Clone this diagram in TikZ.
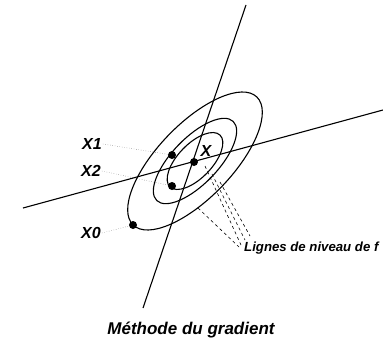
\documentclass[tikz,border=0pt]{standalone}
\usepackage{fontspec}
\setmainfont{Liberation Sans}
\usetikzlibrary{positioning}

\begin{document}
\begin{tikzpicture}[
  x=1pt, y=-1pt,
  lbl/.style={font=\fontsize{16}{16}\selectfont\bfseries\itshape, inner sep=1pt},
  small/.style={font=\fontsize{13.2}{13.2}\selectfont\bfseries\itshape, inner sep=1pt},
  pt/.style={circle, fill, inner sep=0pt, minimum size=8pt},
  lead/.style={dotted, thin, black!70},
  lvl/.style={line width=1.1pt},
  dsh/.style={line width=0.6pt, dash pattern=on 3pt off 3pt}
]
  \useasboundingbox (0,0) rectangle (383,340);

  % axes
  \coordinate (a1) at (246,5);
  \coordinate (a2) at (143,308);
  \coordinate (b1) at (23,208);
  \coordinate (b2) at (383,110);
  \draw[lvl] (a1) -- (a2);
  \draw[lvl] (b1) -- (b2);

  % level curves
  \coordinate (c) at (195,161);
  \foreach \ra/\rb in {89/37, 55/23, 36/17}
    \draw[lvl, rotate around={46:(c)}] (c) ellipse [x radius=\ra, y radius=\rb];

  % iterates
  \node[pt] (x0) at (133,225) {};
  \node[pt] (x1) at (172,155) {};
  \node[pt] (x2) at (172,186) {};
  \node[pt] (xs) at (194,162) {};

  \node[lbl] (lx1) at (92,144) {X1};
  \node[lbl] (lx2) at (91,171) {X2};
  \node[lbl] (lx0) at (91,233) {X0};
  \node[lbl] (lxs) at (206,151) {X};

  \draw[lead] (lx1.east) -- (x1);
  \draw[lead] (lx2.east) -- (x2);
  \draw[lead] (lx0.east) -- (x0);

  % level lines label
  \node[small, anchor=west] (niv) at (243,248) {Lignes de niveau de f};
  \coordinate (s1) at (205,166);
  \coordinate (s2) at (212,174);
  \coordinate (s3) at (220,182);
  \coordinate (s4) at (198,208);
  \coordinate (e1) at (241,245);
  \coordinate (e2) at (245,240);
  \coordinate (e3) at (250,236);
  \coordinate (e4) at (239,247);
  \foreach \i in {1,...,4}
    \draw[dsh] (s\i) -- (e\i);

  \node[lbl, font=\fontsize{17}{17}\selectfont\bfseries\itshape] (titre) at (191,330) {Méthode du gradient};
\end{tikzpicture}
\end{document}
